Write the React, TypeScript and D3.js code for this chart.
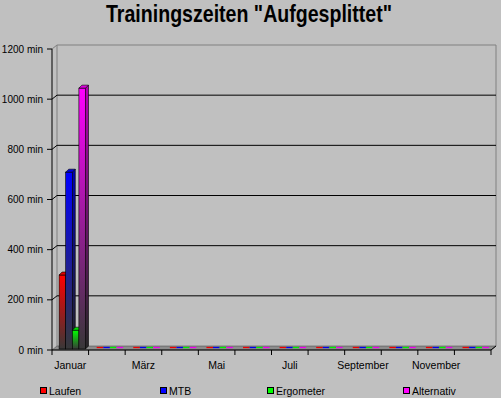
import React, { useEffect, useRef } from 'react';
import * as d3 from 'd3';

const months = ['Januar', 'Februar', 'März', 'April', 'Mai', 'Juni', 'Juli', 'August', 'September', 'Oktober', 'November', 'Dezember'];
const seriesNames = ['Laufen', 'MTB', 'Ergometer', 'Alternativ'];
const seriesColors = ['#ff0000', '#0000ff', '#00ff00', '#ff00ff'];
const laufen = [295, 0, 0, 0, 0, 0, 0, 0, 0, 0, 0, 0];
const mtb = [705, 0, 0, 0, 0, 0, 0, 0, 0, 0, 0, 0];
const ergometer = [75, 0, 0, 0, 0, 0, 0, 0, 0, 0, 0, 0];
const alternativ = [1040, 0, 0, 0, 0, 0, 0, 0, 0, 0, 0, 0];
const yTicks = [0, 200, 400, 600, 800, 1000, 1200];
const legendX = [40, 160, 267, 403];

const W = 501;
const H = 398;
const FONT = "'Liberation Sans', Arial, sans-serif";

const App = () => {
    const ref = useRef<SVGSVGElement>(null);

    useEffect(() => {
        const svg = d3.select(ref.current);
        svg.selectAll('*').remove();
        const allSeries = [laufen, mtb, ergometer, alternativ];

        // back wall plane, front plane sits at (-5, +4)
        const xb0 = 57, xb1 = 496;
        const fdx = -5, fdy = 4;
        const y = d3.scaleLinear().domain([0, 1200]).range([346, 45]);
        const x = d3.scaleBand<string>().domain(months).range([xb0, xb1]).paddingInner(0.278).paddingOuter(0.139);
        const xs = d3.scaleBand<string>().domain(seriesNames).range([0, x.bandwidth()]);
        const step = x.step();

        const defs = svg.append('defs');
        seriesColors.forEach((c, i) => {
            const g = defs.append('linearGradient').attr('id', 'grad' + i)
                .attr('x1', 0).attr('y1', 0).attr('x2', 0).attr('y2', 1);
            g.append('stop').attr('offset', '0%').attr('stop-color', c);
            g.append('stop').attr('offset', '100%').attr('stop-color', '#383838');
            const s = defs.append('linearGradient').attr('id', 'side' + i)
                .attr('x1', 0).attr('y1', 0).attr('x2', 0).attr('y2', 1);
            s.append('stop').attr('offset', '0%').attr('stop-color', d3.color(c)!.darker(1).toString());
            s.append('stop').attr('offset', '100%').attr('stop-color', '#262626');
        });

        svg.append('rect').attr('width', W).attr('height', H).attr('fill', '#c0c0c0');

        // title
        svg.append('text')
            .attr('x', 106).attr('y', 22)
            .attr('textLength', 286).attr('lengthAdjust', 'spacingAndGlyphs')
            .attr('font-family', FONT).attr('font-size', 24).attr('font-weight', 'bold')
            .text('Trainingszeiten "Aufgesplittet"');

        // walls
        const wall = 'M' + [[xb0, y(0)], [xb0, y(1200)], [xb1, y(1200)], [xb1, y(0)]].join('L');
        svg.append('path').attr('d', wall).attr('fill', 'none').attr('stroke', '#808080');
        svg.append('line')
            .attr('x1', xb0 + fdx).attr('y1', y(1200) + fdy).attr('x2', xb0).attr('y2', y(1200))
            .attr('stroke', '#808080');

        // gridlines on back wall
        svg.selectAll('allGrid').data(yTicks.filter(v => v > 0 && v < 1200)).enter()
            .append('line')
            .attr('x1', xb0).attr('x2', xb1)
            .attr('y1', d => y(d)).attr('y2', d => y(d))
            .attr('stroke', 'black');
        svg.selectAll('allGridDiag').data(yTicks.filter(v => v > 0 && v < 1200)).enter()
            .append('line')
            .attr('x1', xb0 + fdx).attr('y1', d => y(d) + fdy)
            .attr('x2', xb0).attr('y2', d => y(d))
            .attr('stroke', 'black');

        // floor
        const floor = 'M' + [[xb0 + fdx, y(0) + fdy], [xb1 + fdx, y(0) + fdy], [xb1, y(0)], [xb0, y(0)]].join('L') + 'Z';
        svg.append('path').attr('d', floor).attr('fill', '#8c8c8c').attr('stroke', '#404040').attr('stroke-width', 0.5);

        // bars, front face at (-3, +3) from back, depth back to the wall
        const bdx = -3, bdy = 3, dep = 3;
        months.forEach((m, mi) => {
            seriesNames.forEach((s, si) => {
                const v = allSeries[si][mi];
                const x0 = (x(m) as number) + (xs(s) as number) + bdx;
                const w = xs.bandwidth();
                const yt = y(v) + bdy;
                const yb = y(0) + bdy;
                const g = svg.append('g');
                if (v > 0) {
                    g.append('path')
                        .attr('d', 'M' + [[x0 + w, yb], [x0 + w, yt], [x0 + w + dep, yt - dep], [x0 + w + dep, yb - dep]].join('L') + 'Z')
                        .attr('fill', `url(#side${si})`).attr('stroke', 'black').attr('stroke-width', 0.6);
                    g.append('rect')
                        .attr('x', x0).attr('y', yt).attr('width', w).attr('height', yb - yt)
                        .attr('fill', `url(#grad${si})`).attr('stroke', 'black').attr('stroke-width', 0.6);
                    g.append('path')
                        .attr('d', 'M' + [[x0, yt], [x0 + w, yt], [x0 + w + dep, yt - dep], [x0 + dep, yt - dep]].join('L') + 'Z')
                        .attr('fill', d3.color(seriesColors[si])!.darker(0.4).toString())
                        .attr('stroke', 'black').attr('stroke-width', 0.6);
                } else {
                    // flat zero column: just a thin coloured top face on the floor
                    g.append('line')
                        .attr('x1', x0 + 1).attr('x2', x0 + w + 1)
                        .attr('y1', yt - 1.5).attr('y2', yt - 1.5)
                        .attr('stroke', d3.color(seriesColors[si])!.darker(0.2).toString())
                        .attr('stroke-width', 1.3);
                }
            });
        });

        // y axis (front)
        const ax = xb0 + fdx;
        svg.append('line').attr('x1', ax).attr('x2', ax)
            .attr('y1', y(1200) + fdy).attr('y2', y(0) + fdy).attr('stroke', 'black');
        svg.selectAll('allYTicks').data(yTicks).enter()
            .append('line')
            .attr('x1', ax - 5).attr('x2', ax)
            .attr('y1', d => y(d) + fdy).attr('y2', d => y(d) + fdy)
            .attr('stroke', 'black');
        svg.selectAll('allYLabels').data(yTicks).enter()
            .append('text')
            .attr('x', ax - 9).attr('y', d => y(d) + fdy + 3.5)
            .attr('text-anchor', 'end')
            .attr('font-family', FONT).attr('font-size', 10)
            .text(d => d + ' min');

        // x axis (front)
        const ay = y(0) + fdy;
        svg.append('line').attr('x1', ax).attr('x2', xb1 + fdx)
            .attr('y1', ay).attr('y2', ay).attr('stroke', 'black');
        svg.append('line').attr('x1', xb1 + fdx).attr('y1', ay)
            .attr('x2', xb1).attr('y2', y(0)).attr('stroke', 'black');
        svg.selectAll('allXTicks').data(d3.range(months.length + 1)).enter()
            .append('line')
            .attr('x1', d => xb0 + fdx + d * step).attr('x2', d => xb0 + fdx + d * step)
            .attr('y1', ay).attr('y2', ay + 5)
            .attr('stroke', 'black');
        svg.selectAll('allXLabels').data(months.filter((_, i) => i % 2 === 0)).enter()
            .append('text')
            .attr('x', d => xb0 + fdx + months.indexOf(d) * step + step / 2)
            .attr('y', ay + 19)
            .attr('text-anchor', 'middle')
            .attr('font-family', FONT).attr('font-size', 10.5)
            .text(d => d);

        // legend
        const lg = svg.selectAll('allLegend').data(seriesNames).enter().append('g')
            .attr('transform', (d, i) => 'translate(' + legendX[i] + ',387)');
        lg.append('rect').attr('x', 0.5).attr('y', 0.5).attr('width', 6).attr('height', 6)
            .attr('fill', (d, i) => seriesColors[i]).attr('stroke', 'black');
        lg.append('text').attr('x', 9).attr('y', 7.5)
            .attr('font-family', FONT).attr('font-size', 10.5)
            .text(d => d);
    }, []);

    return (
        <svg ref={ref} width={W} height={H} style={{ position: 'fixed', left: 0, top: 0 }} />
    );
};

export default App;
